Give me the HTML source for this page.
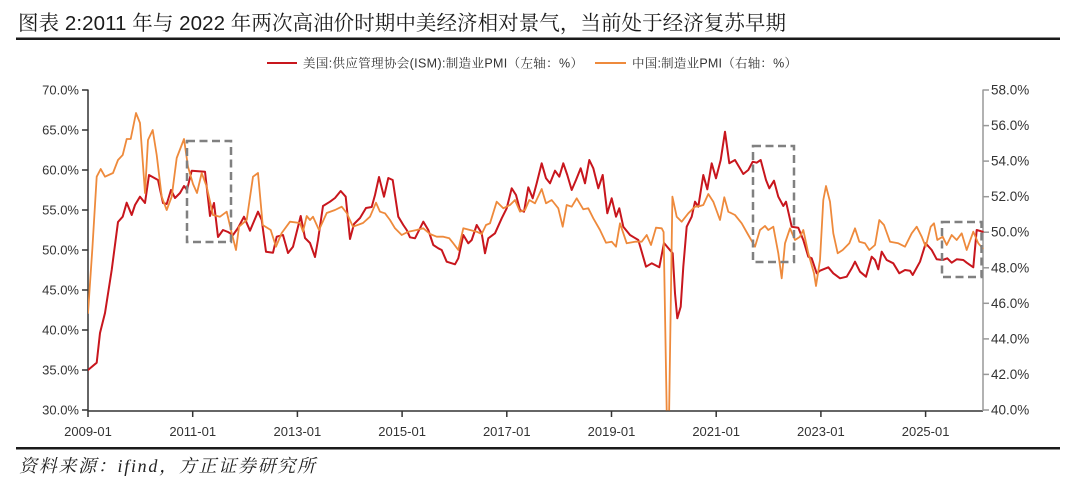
<!DOCTYPE html>
<html><head><meta charset="utf-8"><style>
html,body{margin:0;padding:0;background:#fff;}
svg{display:block;}
</style></head><body>
<svg width="1080" height="483" viewBox="0 0 1080 483" xmlns="http://www.w3.org/2000/svg">
<rect width="1080" height="483" fill="#fff"/>
<text x="18" y="30" font-family="'Liberation Sans','Noto Serif CJK SC',serif" font-size="20.5" fill="#1a1a1a" textLength="768" lengthAdjust="spacing">图表 2:2011 年与 2022 年两次高油价时期中美经济相对景气，当前处于经济复苏早期</text>
<rect x="16" y="37.5" width="1044" height="2.5" fill="#1a1a1a"/>

<line x1="267" y1="63" x2="297" y2="63" stroke="#c8161d" stroke-width="2"/>
<text x="303" y="67.5" font-family="'Liberation Sans','Noto Serif CJK SC',serif" font-size="12.5" fill="#333" textLength="280" lengthAdjust="spacing">美国:供应管理协会(ISM):制造业PMI（左轴：%）</text>
<line x1="595" y1="63" x2="626" y2="63" stroke="#ee8a3c" stroke-width="2"/>
<text x="632" y="67.5" font-family="'Liberation Sans','Noto Serif CJK SC',serif" font-size="12.5" fill="#333" textLength="165" lengthAdjust="spacing">中国:制造业PMI（右轴：%）</text>

<g font-family="'Liberation Sans',sans-serif" font-size="13" fill="#333">
<g text-anchor="end">
<text x="79" y="94.5">70.0%</text>
<text x="79" y="134.5">65.0%</text>
<text x="79" y="174.5">60.0%</text>
<text x="79" y="214.5">55.0%</text>
<text x="79" y="254.5">50.0%</text>
<text x="79" y="294.5">45.0%</text>
<text x="79" y="334.5">40.0%</text>
<text x="79" y="374.5">35.0%</text>
<text x="79" y="414.5">30.0%</text>
</g>
<g>
<text x="991" y="94.5" font-size="13.5">58.0%</text>
<text x="991" y="130.1" font-size="13.5">56.0%</text>
<text x="991" y="165.6" font-size="13.5">54.0%</text>
<text x="991" y="201.2" font-size="13.5">52.0%</text>
<text x="991" y="236.7" font-size="13.5">50.0%</text>
<text x="991" y="272.3" font-size="13.5">48.0%</text>
<text x="991" y="307.8" font-size="13.5">46.0%</text>
<text x="991" y="343.4" font-size="13.5">44.0%</text>
<text x="991" y="378.9" font-size="13.5">42.0%</text>
<text x="991" y="414.5" font-size="13.5">40.0%</text>
</g>
<g text-anchor="middle">
<text x="88" y="436">2009-01</text>
<text x="192.7" y="436">2011-01</text>
<text x="297.4" y="436">2013-01</text>
<text x="402.1" y="436">2015-01</text>
<text x="506.8" y="436">2017-01</text>
<text x="611.5" y="436">2019-01</text>
<text x="716.2" y="436">2021-01</text>
<text x="820.9" y="436">2023-01</text>
<text x="925.6" y="436">2025-01</text>
</g>
</g>

<!-- axes -->
<g stroke="#333" stroke-width="1.5">
<line x1="88" y1="89.5" x2="88" y2="411.5"/>
<line x1="82" y1="90" x2="88" y2="90"/>
<line x1="82" y1="130" x2="88" y2="130"/>
<line x1="82" y1="170" x2="88" y2="170"/>
<line x1="82" y1="210" x2="88" y2="210"/>
<line x1="82" y1="250" x2="88" y2="250"/>
<line x1="82" y1="290" x2="88" y2="290"/>
<line x1="82" y1="330" x2="88" y2="330"/>
<line x1="82" y1="370" x2="88" y2="370"/>
<line x1="82" y1="410" x2="88" y2="410"/>
<line x1="88" y1="411" x2="983" y2="411"/>
<line x1="88" y1="411" x2="88" y2="417"/>
<line x1="192.7" y1="411" x2="192.7" y2="417"/>
<line x1="297.4" y1="411" x2="297.4" y2="417"/>
<line x1="402.1" y1="411" x2="402.1" y2="417"/>
<line x1="506.8" y1="411" x2="506.8" y2="417"/>
<line x1="611.5" y1="411" x2="611.5" y2="417"/>
<line x1="716.2" y1="411" x2="716.2" y2="417"/>
<line x1="820.9" y1="411" x2="820.9" y2="417"/>
<line x1="925.6" y1="411" x2="925.6" y2="417"/>
</g>
<g stroke="#999" stroke-width="1.5">
<line x1="983" y1="89.5" x2="983" y2="411"/>
<line x1="983" y1="90" x2="989" y2="90"/>
<line x1="983" y1="125.6" x2="989" y2="125.6"/>
<line x1="983" y1="161.1" x2="989" y2="161.1"/>
<line x1="983" y1="196.7" x2="989" y2="196.7"/>
<line x1="983" y1="232.2" x2="989" y2="232.2"/>
<line x1="983" y1="267.8" x2="989" y2="267.8"/>
<line x1="983" y1="303.3" x2="989" y2="303.3"/>
<line x1="983" y1="338.9" x2="989" y2="338.9"/>
<line x1="983" y1="374.4" x2="989" y2="374.4"/>
<line x1="983" y1="410" x2="989" y2="410"/>
</g>

<defs><clipPath id="pc"><rect x="88" y="80" width="896" height="330.5"/></clipPath></defs>
<g clip-path="url(#pc)" fill="none" stroke-linejoin="round" stroke-linecap="round">
<polyline stroke="#c8161d" stroke-width="2" points="88,370 96.7,362.7 100,333 105,313 111.7,270 118,222 122.7,216.7 126.7,202.7 131.7,215 135,205 140,196.7 145,203 149,175 158,180 163,203 166.7,204 171,190 175,198 180,193 184,186 187,190 191.7,170.7 205,171.7 210,216 214,203 218,237 223,230 228,232 233,235 238,228 244,216.7 250,230.7 258,211.7 261.7,220 266,251.7 273,252.7 276.7,236.7 283,235 288,253 293,246.7 300.7,216 305,238 310,243 315,257 318,240 323,206 330,201.7 335,198 340.7,191 345.7,196.7 350,239 354,224 360,218 366,208 371.7,207 375,195 379,177 384,196.7 388.3,178 392.7,180 398.3,216.7 403.3,225 406.7,230 410,237.3 415,238.3 423.3,221.7 428.3,230 433.3,245 438.3,248.3 441.7,250 446.7,261.7 455,264.3 458.3,258.3 463.3,235 468.3,243.3 471.7,240 476.7,225 481.7,233.3 485,253.3 488.3,238.3 495,233.3 501.7,218.3 506.7,208.3 511.7,188.3 516,195 520,210 524,211.7 528.3,187.3 532.7,198.3 536.7,183.3 541.7,163.3 546,178.3 550,183.3 555,170.7 559.3,176.7 563.3,163.3 567.3,175 571.7,190 576,180 580.7,168.3 585,183.3 589.3,160 593.3,168.3 598.3,188.3 602.7,175 607.3,213.3 611.7,198.3 616,216.7 619.3,208.3 623.3,226.7 630,235 638.3,240 641.7,251.7 646,266.7 651.7,263.3 659.3,267.3 664,243 672.7,253.3 675,293.3 677.3,318.3 680.7,306.7 683.3,266.7 686.7,226.7 691.7,216.7 695,201.7 698.3,206.7 703.3,175 707.3,189.3 711.7,163.3 716,178.3 720.7,160 725,131.7 729.3,163.3 735,160 743.3,174 748.3,170 752.7,161.7 756.7,162.7 760.7,160 766,180 769.3,188.3 774,180.7 778.3,196.7 783.3,206 786,201.7 791.7,226.7 798.3,227.7 803.3,240 808.3,256.7 811.7,258.3 816.7,273.3 820,270.7 828.3,267.3 833.3,273.3 840,278.3 846.7,276.7 851.7,268.3 855,261.7 860,271.7 866,276.7 871.7,256.7 875,260 878.3,269.3 881.7,251.7 886.7,260 893.3,263.3 899.3,273.3 905,270 910,270.7 912.7,275 920,261.7 925.7,243.3 931.7,250 936.7,259.3 942.7,260 947.3,258.3 951.7,262.7 956.7,259.3 963.3,260 966.7,262.7 973.3,267.3 976.7,230 982.7,231.7"/>
<polyline stroke="#ee8a3c" stroke-width="1.8" points="88,313 92.4,248 96.7,176.7 100.7,169 105,176.7 113,173 118,160 122.7,155 126.7,139 130.7,139 136,113 140,123 145,193 148,140 152.7,130 156.7,155 161.7,196.7 166.7,210 171.7,196.7 176.7,158 184,139 188,166.7 193,184 197,193 201.7,173 206.7,186.7 213,215 220,216.7 226.7,211.7 231.7,233 236,250 239,226.7 246.7,220 253,176.7 258,173 262.7,225 270.7,230 276,246.7 281.7,233 290,221.7 300,223 303,231.7 306.7,216 310,220 313,216.7 319,230 326.7,213 335,210 341.7,206.7 346.7,213 353,226.7 363,223 370,216.7 376,202.7 380,211.7 385,213.3 390,220 395,228.3 401.7,235 408.3,231.7 416.7,230 423.3,228.3 430,234 436.7,236.7 443.3,236.7 449.3,238.3 453.3,243.3 458.3,250 463.3,228.3 470,230 476.7,231.7 481.7,234 486,225 490,223.3 496.7,201.7 503.3,208.3 510,205 515,200 520,211.7 525,210 529.3,200 535,203.3 541.7,189 546,203.3 551.7,200 558.3,208.3 562.7,226.7 566.7,205 571.7,206.7 576.7,198.3 583.3,209.3 588.3,208.3 593.3,218.3 600,230 606,242.7 611.7,241.7 616,246.7 620,223.3 626.7,243.3 635,241.7 641.7,241.7 646.7,235 651,245 656,227.7 661.7,228.3 663.6,232 668,486 672.4,196.7 676.7,216.7 681.7,221.7 688.3,213.3 695,206.7 700,206 703.3,205 708.3,194 713.3,201.7 720,220 724.3,197.3 728.3,211.7 735,215 741.7,223.3 748.3,235 755,246.7 760,230 765,226 768.3,230 773.3,226.7 778.3,253.3 781.7,278.3 785,243.3 790,228.3 795,240 800,236.7 803.3,230 808.3,253.3 814,273.3 816,286 820,260 823.3,200 826,186 830,201.7 833.3,233.3 837.7,253.3 842.7,250 849.3,243.3 855,228.3 859.3,241.7 865,243.3 869.3,250 875,245 879.3,220 884,225 890,241.7 898.3,243.3 905,246.7 911.7,233.3 916.7,226.7 921.7,236.7 925.7,246.7 930.7,226.7 934,223.3 937.3,240 942.7,236.7 946.7,245 951.7,235 956.7,240 961.7,233.3 966.7,250 973.3,231.7 978.3,243.3 982.7,248.3"/>
</g>

<g fill="none" stroke="#808080" stroke-width="2.5" stroke-dasharray="8,4.5">
<rect x="187" y="141" width="44" height="101"/>
<rect x="753" y="146" width="41" height="116"/>
<rect x="942" y="222" width="39.5" height="55"/>
</g>

<rect x="16" y="447" width="1044" height="2.5" fill="#1a1a1a"/>
<text x="19" y="472" font-family="'Liberation Serif','Noto Serif CJK SC',serif" font-style="italic" font-size="18" fill="#222" textLength="296" lengthAdjust="spacing">资料来源：ifind，方正证券研究所</text>
</svg>
</body></html>
